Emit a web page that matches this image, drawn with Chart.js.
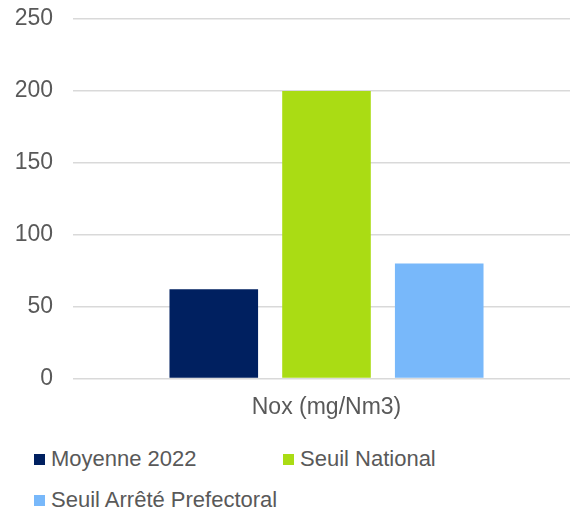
<!DOCTYPE html>
<html>
<head>
<meta charset="utf-8">
<script src="https://cdn.jsdelivr.net/npm/chart.js@4/dist/chart.umd.min.js"></script>
<style>
  html, body { margin: 0; padding: 0; background: #fff; overflow: hidden; }
  #wrap { position: absolute; left: 0; top: 0; width: 580px; height: 428px; }
  #legend { position: absolute; left: 0; top: 440px; width: 570px; font-family: "Liberation Sans", Arial, sans-serif; font-size: 22px; color: #595959; }
  .item { position: absolute; white-space: nowrap; line-height: 22px; }
  .box { display: inline-block; width: 11px; height: 11px; margin-right: 6px; vertical-align: 1px; }
</style>
</head>
<body>
<div id="wrap"><canvas id="chart" width="580" height="428"></canvas></div>
<div id="legend"></div>
<script>
const categories = ['Nox (mg/Nm3)'];
const seriesNames = ['Moyenne 2022', 'Seuil National', 'Seuil Arrêté Prefectoral'];
const moyenne2022 = [62];
const seuilNational = [200];
const seuilPrefectoral = [80];
const yTicks = [0, 50, 100, 150, 200, 250];
const colors = ['#002060', '#AADC14', '#78B8FA'];

const ctx = document.getElementById('chart').getContext('2d');
const chart = new Chart(ctx, {
    type: 'bar',
    data: {
        labels: categories,
        datasets: [
            { label: seriesNames[0], data: moyenne2022, backgroundColor: colors[0] },
            { label: seriesNames[1], data: seuilNational, backgroundColor: colors[1] },
            { label: seriesNames[2], data: seuilPrefectoral, backgroundColor: colors[2] }
        ]
    },
    options: {
        responsive: false,
        animation: false,
        devicePixelRatio: 1,
        categoryPercentage: 0.667,
        barPercentage: 0.786,
        layout: { padding: { top: 19, left: 0, right: 0, bottom: 0 } },
        plugins: {
            legend: { display: false },
            tooltip: { enabled: false }
        },
        scales: {
            x: {
                grid: { display: false },
                border: { display: false },
                ticks: {
                    color: '#595959',
                    font: { family: '"Liberation Sans", Arial, sans-serif', size: 23 },
                    padding: 7
                }
            },
            y: {
                min: 0,
                max: 250,
                afterFit: function (scale) {
                    scale.width = 73;
                    scale.paddingTop = 0;
                    scale.paddingBottom = 0;
                },
                afterBuildTicks: function (scale) { scale.ticks = yTicks.map(v => ({ value: v })); },
                grid: { color: '#D9D9D9', lineWidth: 1.5, drawTicks: false },
                border: { display: false },
                ticks: {
                    color: '#595959',
                    font: { family: '"Liberation Sans", Arial, sans-serif', size: 23 },
                    padding: 20
                }
            }
        }
    }
});

// legend laid out in two columns like the original
const legend = document.getElementById('legend');
const legendPos = [[34, 8], [283, 8], [34, 49]];
seriesNames.forEach(function (name, i) {
    const el = document.createElement('div');
    el.className = 'item';
    el.style.left = legendPos[i][0] + 'px';
    el.style.top = legendPos[i][1] + 'px';
    el.innerHTML = '<span class="box" style="background:' + colors[i] + '"></span>' + name;
    legend.appendChild(el);
});
</script>
</body>
</html>
